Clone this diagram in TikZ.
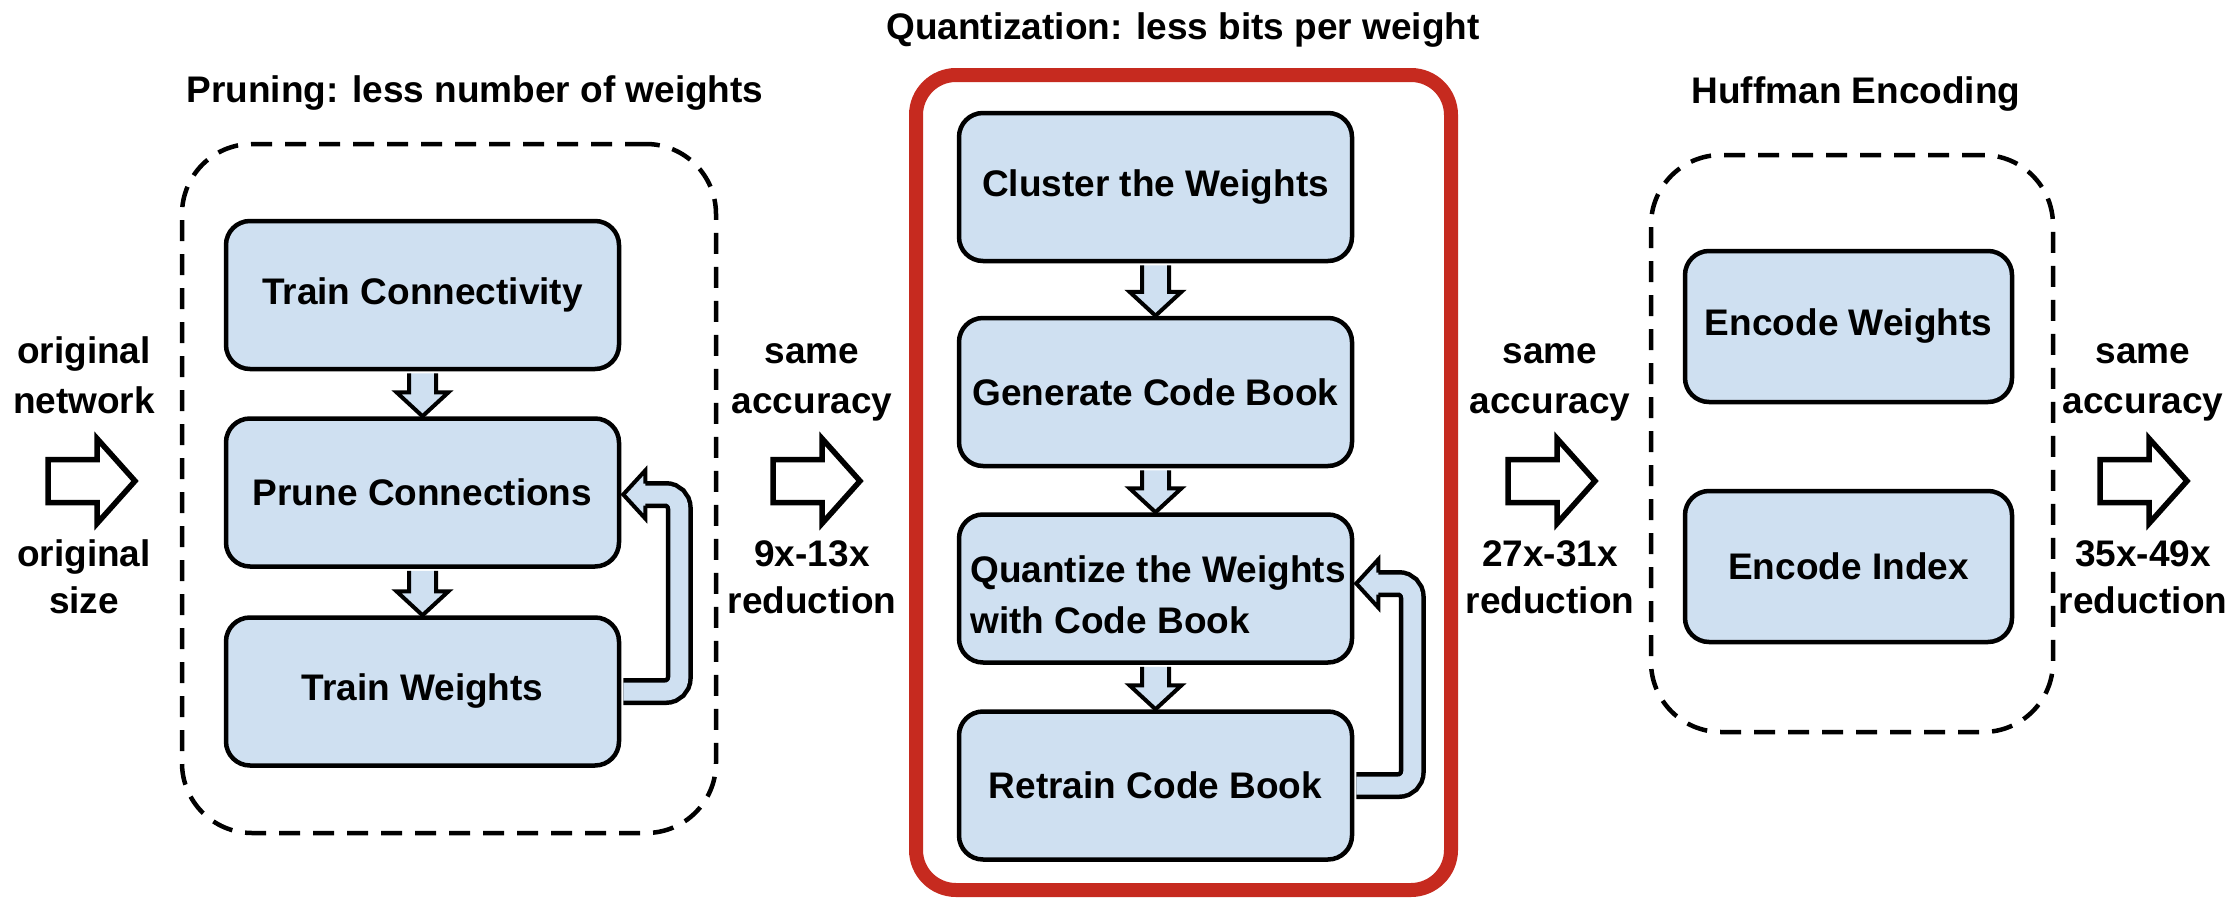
\documentclass[tikz,border=0pt]{standalone}
\usepackage{fontspec}
\setmainfont{Liberation Sans}
\usetikzlibrary{calc}

\definecolor{stepfill}{HTML}{CFE0F1}
\definecolor{framered}{HTML}{C62A1F}

% short downward arrow from the bottom of one step to the top of the next
\newcommand\flowdown[2]{%
  \coordinate (fdS) at ($(#1.south)+(0,2)$);
  \coordinate (fdT) at (#2.north);
  \filldraw[smallarrow] ($(fdS)+(-13.5,0)$) -- ($(fdT)+(-13.5,-24)$)
    -- ($(fdT)+(-26,-24)$) -- (fdT) -- ($(fdT)+(26,-24)$)
    -- ($(fdT)+(13.5,-24)$) -- ($(fdS)+(13.5,0)$);
}

% hollow arrow between two stages; #1 = name, #2 = left middle point
\newcommand\stagearrow[2]{%
  \coordinate (#1) at (#2);
  \draw[bigarrow] ($(#1)+(0,-21.5)$) -- ($(#1)+(49,-21.5)$) -- ($(#1)+(49,-42.5)$)
    -- ($(#1)+(87,0)$) -- ($(#1)+(49,42.5)$) -- ($(#1)+(49,21.5)$)
    -- ($(#1)+(0,21.5)$) -- cycle;
}

% feedback band from the right side of #1 back to the right side of #2
% #3 = vertical offset of the head, #4 = prefix for helper coordinates
\newcommand\loopback[4]{%
  \coordinate (#4a) at ($(#1.east)+(2,0)$);
  \coordinate (#4b) at ($(#1.east)+(58,0)$);
  \coordinate (#4t) at ($(#2.east)+(2,#3)$);
  \coordinate (#4h) at ($(#4t)+(22,0)$);
  \draw[line width=27pt, rounded corners=13.5pt]
    (#4a) -- (#4b) -- (#4b |- #4t) -- ($(#4h)+(-3,0)$);
  \draw[line width=18pt, stepfill, rounded corners=13.5pt]
    (#4a) -- (#4b) -- (#4b |- #4t) -- ($(#4h)+(-3,0)$);
  \filldraw[smallarrow] ($(#4h)+(0,-11)$) -- ($(#4h)+(0,-24)$) -- (#4t)
    -- ($(#4h)+(0,24)$) -- ($(#4h)+(0,11)$);
}

\begin{document}
\begin{tikzpicture}[x=1pt, y=-1pt,
  font=\fontsize{37}{46}\selectfont\bfseries,
  stepbox/.style={draw=black, line width=4.5pt, fill=stepfill, rounded corners=24pt,
    minimum width=393pt, minimum height=148pt, inner sep=0pt, align=center},
  codebox/.style={stepbox, minimum width=327pt, minimum height=151pt},
  dashframe/.style={draw=black, line width=4.5pt, dash pattern=on 21pt off 13pt,
    rounded corners=70pt, inner sep=0pt},
  redframe/.style={draw=framered, line width=14pt, rounded corners=40pt, inner sep=0pt},
  smallarrow/.style={draw=black, fill=stepfill, line width=4pt, line join=miter},
  bigarrow/.style={draw=black, fill=white, line width=5.5pt, line join=miter},
  lbl/.style={anchor=base, inner sep=0pt},
]
\fill[white] (0,0) rectangle (2236,910);
\useasboundingbox (0,0) rectangle (2236,910);

% stage frames
\node[dashframe, minimum width=534pt, minimum height=689pt] (pruneframe) at (449,488.5) {};
\node[redframe, minimum width=535pt, minimum height=815pt] (quantframe) at (1183.5,482.5) {};
\node[dashframe, minimum width=402pt, minimum height=577pt] (huffframe) at (1852,443.5) {};

% stage titles
\node[lbl] (prunetitle) at (475,102) {Pruning: less number of weights};
\node[lbl] (quanttitle) at (1183,39) {Quantization: less bits per weight};
\node[lbl] (hufftitle) at (1856,103) {Huffman Encoding};

% pruning steps
\node[stepbox] (tc) at (422.5,295) {Train Connectivity};
\node[stepbox] (pc) at (422.5,492.5) {Prune Connections};
\node[stepbox] (tw) at (422.5,691.5) {Train Weights};

% quantization steps
\node[stepbox] (cw) at (1155.5,187) {Cluster the Weights};
\node[stepbox] (gcb) at (1155.5,392) {Generate Code Book};
\node[stepbox] (qw) at (1155.5,588.5) {};
\node[align=left, inner sep=0pt, font=\fontsize{37}{51}\selectfont\bfseries]
  (qwtext) at (1158,595) {Quantize the Weights\\with Code Book};
\node[stepbox] (rcb) at (1155.5,785.5) {Retrain Code Book};

% huffman steps
\node[codebox] (ew) at (1848.5,326.5) {Encode Weights};
\node[codebox] (ei) at (1848.5,566.5) {Encode Index};

% flow inside the stages
\flowdown{tc}{pc}
\flowdown{pc}{tw}
\flowdown{cw}{gcb}
\flowdown{gcb}{qw}
\flowdown{qw}{rcb}
\loopback{tw}{pc}{2}{lp}
\loopback{rcb}{qw}{-5}{lq}

% arrows between the stages
\stagearrow{arrA}{48,481}
\stagearrow{arrB}{773,481}
\stagearrow{arrC}{1508,481}
\stagearrow{arrD}{2100,481}

% labels around the stage arrows
\node[lbl] (inA) at (84,363) {original};
\node[lbl] (inB) at (84,413) {network};
\node[lbl] (inC) at (84,566) {original};
\node[lbl] (inD) at (84,613) {size};

\node[lbl] (pA) at (812,363) {same};
\node[lbl] (pB) at (812,413) {accuracy};
\node[lbl] (pC) at (812,566) {9x-13x};
\node[lbl] (pD) at (812,613) {reduction};

\node[lbl] (qA) at (1550,363) {same};
\node[lbl] (qB) at (1550,413) {accuracy};
\node[lbl] (qC) at (1550,566) {27x-31x};
\node[lbl] (qD) at (1550,613) {reduction};

\node[lbl] (hA) at (2143,363) {same};
\node[lbl] (hB) at (2143,413) {accuracy};
\node[lbl] (hC) at (2143,566) {35x-49x};
\node[lbl] (hD) at (2143,613) {reduction};
\end{tikzpicture}
\end{document}
